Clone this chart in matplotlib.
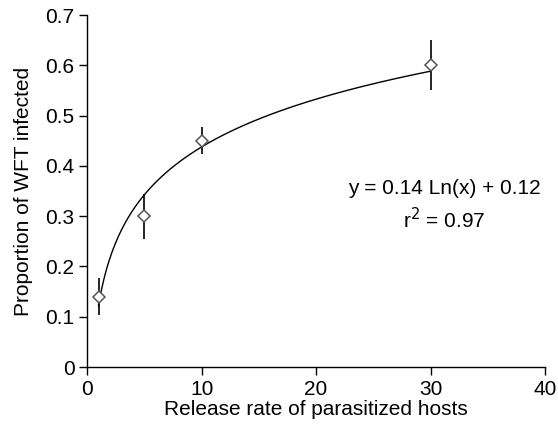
import numpy as np
import matplotlib
matplotlib.use("Agg")
import matplotlib.pyplot as plt

plt.rcParams['font.family'] = ['Liberation Sans', 'DejaVu Sans']

# release rate vs proportion of WFT infected
release_rate = [1, 5, 10, 30]
prop_infected = [0.14, 0.30, 0.45, 0.60]
prop_err = [0.037, 0.045, 0.027, 0.05]

# log fit
slope, intercept = np.polyfit(np.log(release_rate), prop_infected, 1)
xs = np.linspace(1, 30, 200)
ys = slope * np.log(xs) + intercept

fig = plt.figure(figsize=(5.58, 4.29), dpi=100)
ax = fig.add_axes([0.156, 0.1445, 0.821, 0.8205])

ax.plot(xs, ys, color='black', lw=1.0, zorder=2)
ax.errorbar(release_rate, prop_infected, yerr=prop_err, fmt='none',
            ecolor='black', elinewidth=1.2, capsize=0, zorder=3)
ax.plot(release_rate, prop_infected, linestyle='none', marker='D', ms=6.5,
        mfc='white', mec='#555555', mew=1.1, zorder=4)

ax.set_xlim(0, 40)
ax.set_ylim(0, 0.7)
ax.set_xticks([0, 10, 20, 30, 40])
ax.set_yticks(np.arange(0, 0.71, 0.1))
ax.set_yticklabels(['0', '0.1', '0.2', '0.3', '0.4', '0.5', '0.6', '0.7'])
ax.tick_params(direction='out', length=6, width=1, labelsize=15, colors='black', pad=3)

for s in ['top', 'right']:
    ax.spines[s].set_visible(False)
for s in ['left', 'bottom']:
    ax.spines[s].set_linewidth(1)

ax.set_xlabel('Release rate of parasitized hosts', fontsize=15, labelpad=1)
ax.set_ylabel('Proportion of WFT infected', fontsize=15, labelpad=9)

ax.text(0.779, 0.506, 'y = 0.14 Ln(x) + 0.12', transform=ax.transAxes,
        ha='center', va='center', fontsize=15)
ax.text(0.779, 0.418, 'r$^2$ = 0.97', transform=ax.transAxes,
        ha='center', va='center', fontsize=15)

fig.savefig('out.png', dpi=100)
